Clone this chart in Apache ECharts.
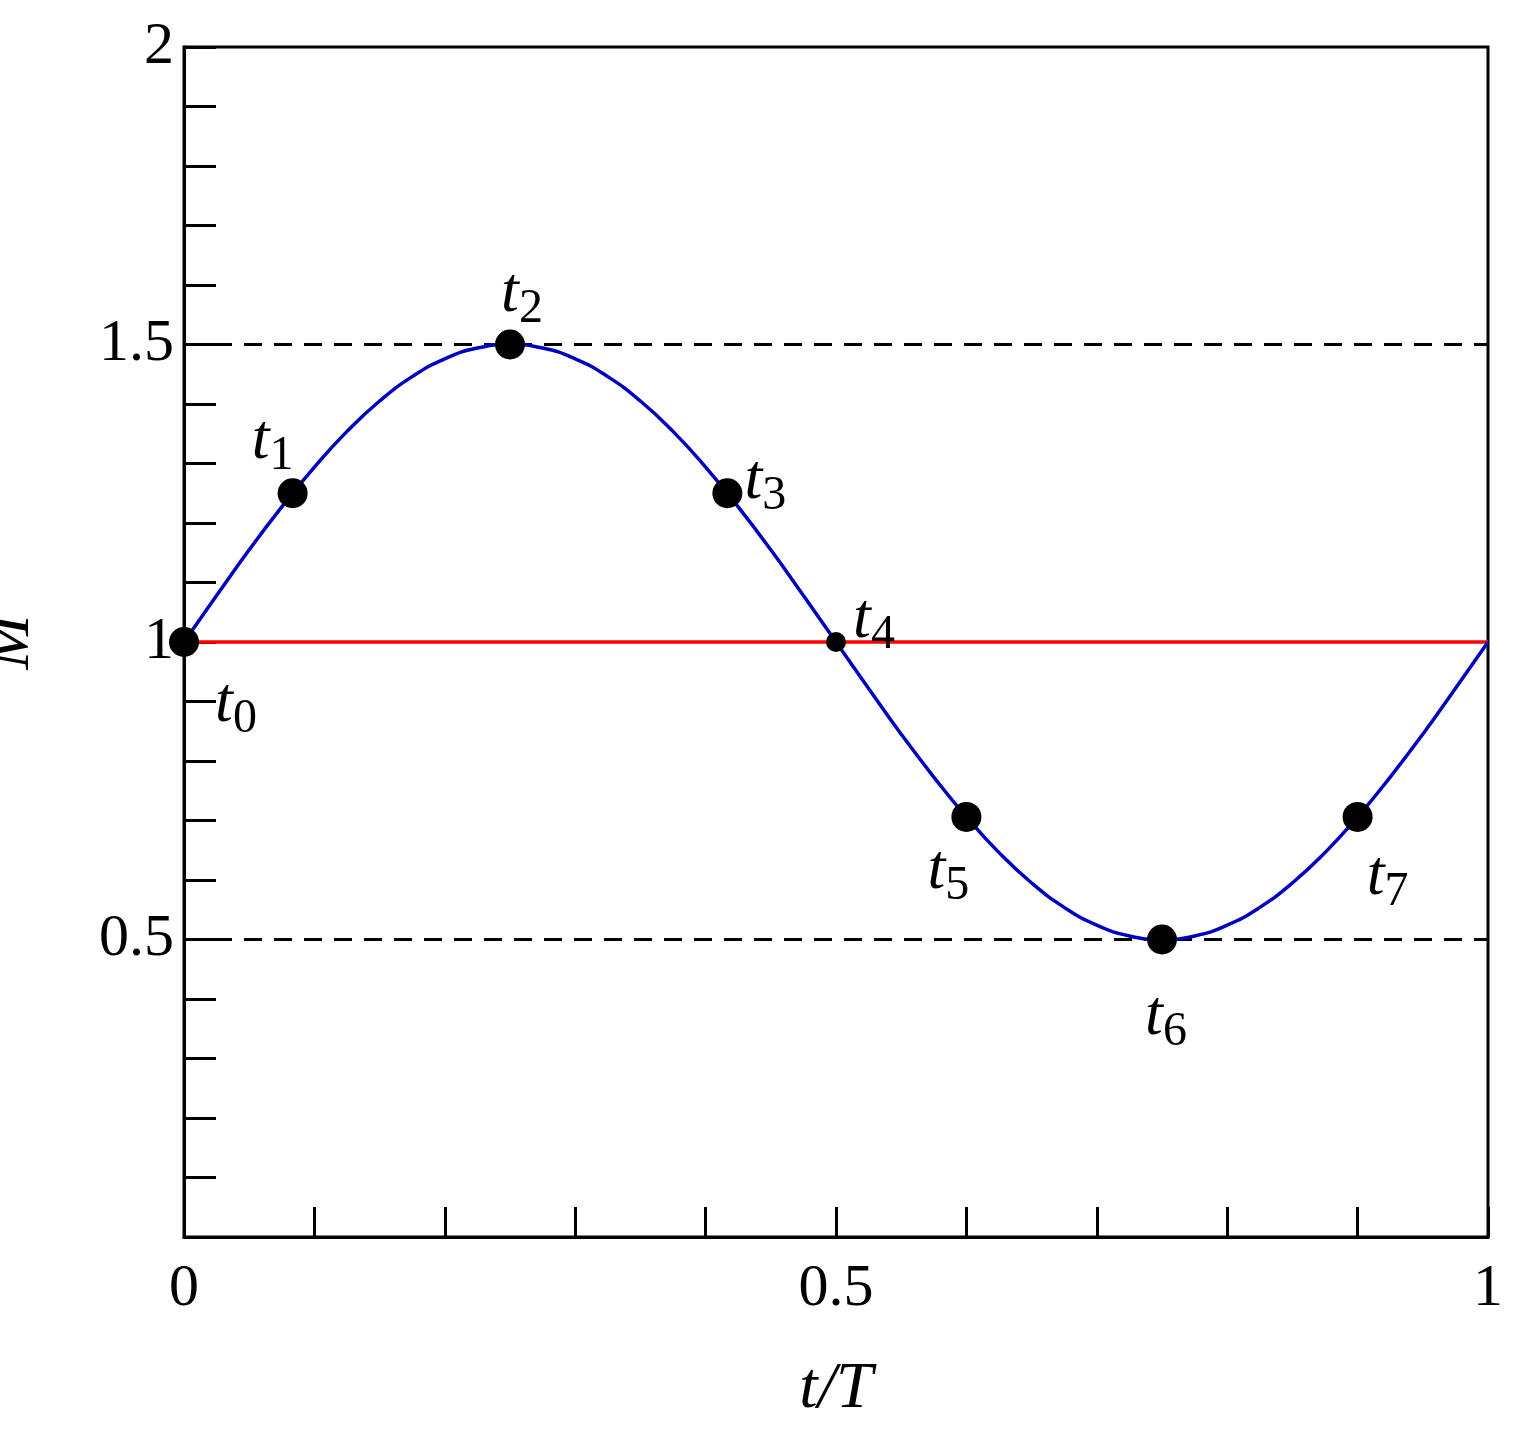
<!DOCTYPE html>
<html><head><meta charset="utf-8">
<script src="https://cdn.jsdelivr.net/npm/echarts@6/dist/echarts.min.js"></script>
<style>html,body{margin:0;padding:0;background:#fff}#c{width:1520px;height:1453px}</style>
</head><body><div id="c"></div>
<script>
const curveT = [0,0.025,0.05,0.075,0.1,0.125,0.15,0.175,0.2,0.225,0.25,0.275,0.3,0.325,0.35,0.375,0.4,0.425,0.45,0.475,0.5,0.525,0.55,0.575,0.6,0.625,0.65,0.675,0.7,0.725,0.75,0.775,0.8,0.825,0.85,0.875,0.9,0.925,0.95,0.975,1];
const curveM = [1,1.078,1.155,1.227,1.294,1.354,1.405,1.446,1.476,1.494,1.5,1.494,1.476,1.446,1.405,1.354,1.294,1.227,1.155,1.078,1,0.922,0.845,0.773,0.706,0.646,0.595,0.554,0.524,0.506,0.5,0.506,0.524,0.554,0.595,0.646,0.706,0.773,0.845,0.922,1];
const ptNames = ['0','1','2','3','4','5','6','7'];
const ptT = [0,0.0833,0.25,0.4167,0.5,0.6,0.75,0.9];
const ptM = [1,1.25,1.5,1.25,1,0.706,0.5,0.706];
const ptSize = [30,30,30,30,20,30,30,30];
const ptOffset = [[52,62],[-20,-52],[12,-50],[38,-12],[38,-22],[-18,54],[4,78],[30,60]];
const xLabels = ['0','0.5','1'];
const yLabels = ['0.5','1','1.5','2'];
const serif = 'Liberation Serif';
const chart = echarts.init(document.getElementById('c'));
const fmt = (v, list) => { const s = String(Math.round(v*10)/10); return list.includes(s) ? s : ''; };
chart.setOption({
  animation:false,
  grid:{left:184,right:32,top:47,bottom:216,containLabel:false,outerBoundsMode:'none',show:true,borderColor:'#000',borderWidth:3,backgroundColor:'transparent'},
  xAxis:{type:'value',min:0,max:1,interval:0.1,name:'t/T',nameLocation:'middle',nameGap:120,
    nameTextStyle:{fontFamily:serif,fontStyle:'italic',fontSize:66,color:'#000'},
    axisLine:{lineStyle:{color:'#000',width:3}},axisTick:{inside:true,length:30,lineStyle:{color:'#000',width:3}},
    axisLabel:{fontFamily:serif,fontSize:60,color:'#000',margin:22,formatter:v=>fmt(v,xLabels)},splitLine:{show:false}},
  yAxis:{type:'value',min:0,max:2,interval:0.1,name:'M',nameLocation:'middle',nameGap:140,
    nameTextStyle:{fontFamily:serif,fontStyle:'italic',fontSize:66,color:'#000'},
    axisLine:{lineStyle:{color:'#000',width:3}},axisTick:{inside:true,length:32,lineStyle:{color:'#000',width:3}},
    axisLabel:{fontFamily:serif,fontSize:60,color:'#000',margin:10,formatter:v=>fmt(v,yLabels)},splitLine:{show:false}},
  series:[
    {type:'line',data:[[0,1.5],[1,1.5]],symbol:'none',lineStyle:{color:'#000',width:3,type:[18,12]},z:1},
    {type:'line',data:[[0,0.5],[1,0.5]],symbol:'none',lineStyle:{color:'#000',width:3,type:[18,12]},z:1},
    {type:'line',data:[[0,1],[1,1]],symbol:'none',lineStyle:{color:'#f00',width:3.5},z:2},
    {type:'line',data:curveT.map((t,i)=>[t,curveM[i]]),smooth:true,symbol:'none',lineStyle:{color:'#0000c0',width:3.5},z:3},
    {type:'scatter',z:5,itemStyle:{color:'#000',opacity:1},
      data:ptT.map((t,i)=>({value:[t,ptM[i]],symbolSize:ptSize[i],
        label:{show:true,position:'inside',color:'#000',offset:ptOffset[i],formatter:'{t|t}{s|'+ptNames[i]+'}',
          rich:{t:{fontFamily:serif,fontStyle:'italic',fontSize:64,color:'#000'},
                s:{fontFamily:serif,fontSize:48,color:'#000',padding:[30,0,0,0]}}}}))}
  ]
});
</script></body></html>
